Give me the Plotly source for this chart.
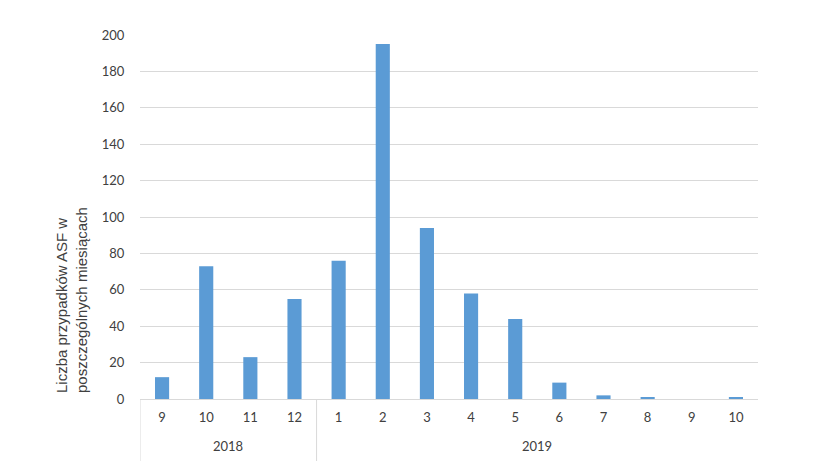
import plotly.graph_objects as go

# Data
months = ["9", "10", "11", "12", "1", "2", "3", "4", "5", "6", "7", "8", "9", "10"]
cases = [12, 73, 23, 55, 76, 195, 94, 58, 44, 9, 2, 1, 0, 1]
year_labels = ["2018", "2019"]
year_counts = [4, 10]
y_ticks = list(range(0, 201, 20))

y_title = "Liczba przypadków ASF w<br>poszczególnych miesiącach"

GRID = "#d9d9d9"
TEXT = "#404040"

positions = list(range(len(months)))

fig = go.Figure()

fig.add_trace(go.Bar(
    x=positions,
    y=cases,
    marker=dict(color="#5b9bd5", line=dict(width=0)),
    width=0.32,
    showlegend=False,
))

# page body has an 8px margin, so margins are shifted by that
fig.update_layout(
    width=820,
    height=461,
    margin=dict(l=132, r=70, t=27, b=70),
    paper_bgcolor="white",
    plot_bgcolor="white",
    font=dict(family="Lato, Liberation Sans, sans-serif", size=13, color=TEXT),
)

fig.update_xaxes(
    range=[-0.5, len(months) - 0.5],
    tickvals=positions,
    ticktext=months,
    showgrid=False,
    zeroline=False,
    showline=True,
    linecolor=GRID,
    linewidth=1,
    ticks="outside",
    ticklen=6,
    tickcolor="white",
    tickfont=dict(size=13, color=TEXT),
)

fig.update_yaxes(
    range=[0, 200],
    tickvals=y_ticks,
    showgrid=True,
    gridcolor=GRID,
    gridwidth=1,
    zeroline=False,
    tickfont=dict(size=13, color=TEXT),
    ticklen=12,
    ticks="outside",
    tickcolor="white",
)

# year labels and group dividers below the axis
start = 0
for label, n in zip(year_labels, year_counts):
    fig.add_annotation(
        text=label,
        x=start + (n - 1) / 2, xref="x",
        y=-0.13, yref="paper",
        xanchor="center", yanchor="middle",
        showarrow=False,
        font=dict(size=13, color=TEXT),
    )
    fig.add_shape(
        type="line",
        x0=start - 0.5, x1=start - 0.5, xref="x",
        y0=0, y1=-0.2, yref="paper",
        line=dict(color=GRID, width=1),
    )
    start += n

fig.add_annotation(
    text=y_title,
    xref="paper", yref="paper",
    x=-0.11, y=0.011,
    xanchor="center", yanchor="bottom",
    align="left",
    textangle=-90,
    showarrow=False,
    font=dict(family="Liberation Sans, Arial, sans-serif", size=15, color=TEXT),
)

fig.write_html("out.html")
